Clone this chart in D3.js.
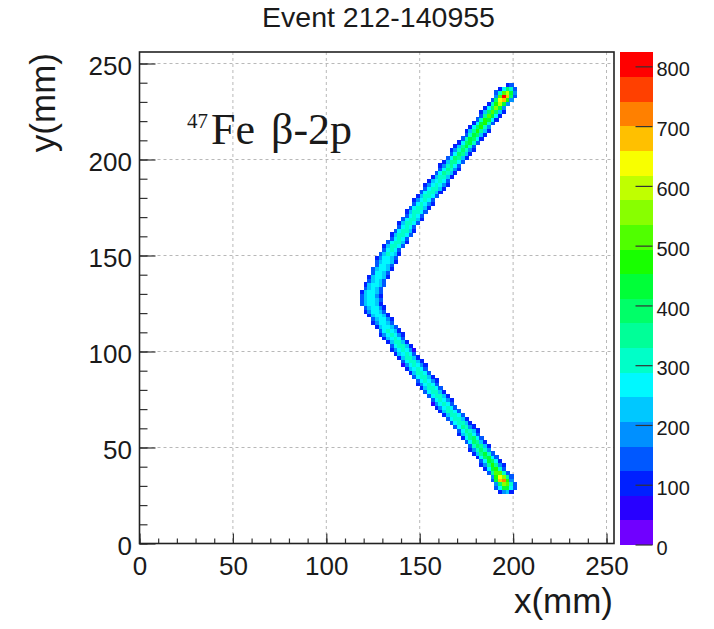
<!DOCTYPE html>
<html>
<head>
<meta charset="utf-8">
<script src="https://d3js.org/d3.v7.min.js"></script>
<style>
  body { margin: 0; background: #fff; }
  svg text { font-family: "Liberation Sans", Arial, Helvetica, sans-serif; fill: #1a1a1a; }
</style>
</head>
<body>
<div id="chart"></div>
<script>
// --------------------------------------
// Chart data
const titleText = "Event 212-140955";
const xTitle = "x(mm)";
const yTitle = "y(mm)";
const xTicks = [0, 50, 100, 150, 200, 250];
const yTicks = [0, 50, 100, 150, 200, 250];
const zTicks = [0, 100, 200, 300, 400, 500, 600, 700, 800];
const xRange = [0, 254];
const yRange = [0, 256];
const zMax = 824;      // top of the colour scale
const binSize = 2;     // mm per pad
// 20 contour colours, bottom (low) to top (high)
const palette = [
    "#7000ff", "#2800ff", "#0020ff", "#0058ff", "#0090ff",
    "#00c8ff", "#00f8ff", "#00ffc8", "#00ff98", "#00ff68",
    "#00ff38", "#18ff00", "#50ff00", "#88ff00", "#c0ff00",
    "#f8ff00", "#ffc000", "#ff8000", "#ff4000", "#ff0000"
];
// Each char of a row is the contour level of one pad (0-9, a=10 ... j=19)
const levelCodes = "0123456789abcdefghij";
// [lower y edge of row (mm), x of first pad (mm), levels of the pads]
const trackRows = [
    [26, 192, "2452"],
    [28, 190, "36aa63"],
    [30, 190, "49dc73"],
    [32, 188, "3aghb4"],
    [34, 188, "4bfd83"],
    [36, 186, "38cc73"],
    [38, 184, "26ab73"],
    [40, 182, "248b842"],
    [42, 182, "36a962"],
    [44, 180, "269a63"],
    [46, 178, "258a73"],
    [48, 176, "247974"],
    [50, 176, "379852"],
    [52, 174, "369852"],
    [54, 172, "268963"],
    [56, 170, "257863"],
    [58, 170, "368752"],
    [60, 168, "368742"],
    [62, 166, "367752"],
    [64, 164, "367752"],
    [66, 162, "257763"],
    [68, 160, "257763"],
    [70, 158, "246763"],
    [72, 156, "146763"],
    [74, 156, "367642"],
    [76, 154, "367752"],
    [78, 152, "367752"],
    [80, 150, "257763"],
    [82, 148, "246763"],
    [84, 148, "367642"],
    [86, 146, "367752"],
    [88, 144, "257763"],
    [90, 142, "256763"],
    [92, 140, "1467642"],
    [94, 140, "367752"],
    [96, 138, "257752"],
    [98, 136, "256763"],
    [100, 134, "2467641"],
    [102, 134, "367752"],
    [104, 132, "257752"],
    [106, 130, "256763"],
    [108, 128, "2467642"],
    [110, 128, "367652"],
    [112, 126, "256653"],
    [114, 124, "246653"],
    [116, 124, "356642"],
    [118, 122, "256652"],
    [120, 120, "246653"],
    [122, 120, "356642"],
    [124, 118, "356652"],
    [126, 118, "356653"],
    [128, 118, "356642"],
    [130, 118, "256653"],
    [132, 120, "35653"],
    [134, 120, "256653"],
    [136, 122, "35653"],
    [138, 122, "256652"],
    [140, 124, "36653"],
    [142, 124, "356652"],
    [144, 126, "36653"],
    [146, 126, "356652"],
    [148, 126, "246653"],
    [150, 128, "357652"],
    [152, 130, "36763"],
    [154, 130, "257763"],
    [156, 132, "367752"],
    [158, 134, "36763"],
    [160, 134, "257763"],
    [162, 136, "367752"],
    [164, 138, "36763"],
    [166, 138, "257763"],
    [168, 140, "367752"],
    [170, 142, "36763"],
    [172, 142, "257763"],
    [174, 144, "367752"],
    [176, 146, "367642"],
    [178, 146, "246763"],
    [180, 148, "257763"],
    [182, 150, "367752"],
    [184, 152, "367752"],
    [186, 152, "2467642"],
    [188, 154, "256763"],
    [190, 156, "257752"],
    [192, 158, "368752"],
    [194, 160, "368742"],
    [196, 160, "247863"],
    [198, 162, "258863"],
    [200, 164, "369852"],
    [202, 166, "369852"],
    [204, 166, "2479742"],
    [206, 168, "258a73"],
    [208, 170, "269a73"],
    [210, 172, "37a962"],
    [212, 174, "37a952"],
    [214, 174, "258b852"],
    [216, 176, "269b74"],
    [218, 178, "26ab73"],
    [220, 180, "37ba62"],
    [222, 182, "38ca62"],
    [224, 182, "259c952"],
    [226, 184, "269da4"],
    [228, 186, "27bea4"],
    [230, 188, "39fgb4"],
    [232, 190, "4cjg93"],
    [234, 190, "37cea4"],
    [236, 192, "26973"],
    [238, 196, "23"]
];

// --------------------------------------
// Layout (pixels)
const width = 714;
const height = 629;
const frame = { left: 139.5, right: 614, top: 52, bottom: 543.5 };
const bar = { left: 619.5, right: 652.5, top: 52, bottom: 544.5 };

const svg = d3.select("#chart")
    .append("svg")
    .attr("width", width)
    .attr("height", height)
    .attr("viewBox", "0 0 " + width + " " + height);

svg.append("rect").attr("width", width).attr("height", height).attr("fill", "#fff");

const x = d3.scaleLinear().domain(xRange).range([frame.left, frame.right]);
const y = d3.scaleLinear().domain(yRange).range([frame.bottom, frame.top]);
const z = d3.scaleLinear().domain([0, zMax]).range([bar.bottom, bar.top]);
const color = d3.scaleQuantize().domain([0, zMax]).range(palette);

// --------------------------------------
// Dashed grid at the major ticks
const grid = svg.append("g")
    .attr("stroke", "#b8b8b8")
    .attr("stroke-width", 1)
    .attr("stroke-dasharray", "3,3");
grid.selectAll(".gx")
    .data(xTicks.filter(d => d > 0))
    .join("line")
    .attr("x1", d => x(d)).attr("x2", d => x(d))
    .attr("y1", frame.top).attr("y2", frame.bottom);
grid.selectAll(".gy")
    .data(yTicks.filter(d => d > 0))
    .join("line")
    .attr("y1", d => y(d)).attr("y2", d => y(d))
    .attr("x1", frame.left).attr("x2", frame.right);

// --------------------------------------
// Pads of the track
const cells = [];
trackRows.forEach(function (row) {
    const [y0, x0, levels] = row;
    levels.split("").forEach(function (ch, k) {
        const level = levelCodes.indexOf(ch);
        if (level < 0) return;
        cells.push({
            x: x0 + k * binSize,
            y: y0,
            value: (level + 0.5) * zMax / palette.length
        });
    });
});

svg.append("g")
    .attr("shape-rendering", "crispEdges")
    .selectAll("rect")
    .data(cells)
    .join("rect")
    .attr("x", d => x(d.x))
    .attr("y", d => y(d.y + binSize))
    .attr("width", x(binSize) - x(0) + 0.4)
    .attr("height", y(0) - y(binSize) + 0.4)
    .attr("fill", d => color(d.value));

// --------------------------------------
// Axes: minor ticks every 10 mm, major every 50 mm, all pointing inward
function styleAxis(g, size) {
    g.select(".domain").remove();
    g.attr("color", "#333").attr("font-size", size);
    g.selectAll(".tick line").attr("stroke-width", 1.2);
}
svg.append("g")
    .attr("transform", "translate(0," + frame.bottom + ")")
    .call(d3.axisBottom(x).tickValues(d3.range(0, 251, 10)).tickSize(-5).tickFormat(""))
    .call(g => styleAxis(g, 26));
svg.append("g")
    .attr("transform", "translate(0," + frame.bottom + ")")
    .call(d3.axisBottom(x).tickValues(xTicks).tickSize(-10).tickPadding(13).tickFormat(d3.format("d")))
    .call(g => styleAxis(g, 26));
svg.append("g")
    .attr("transform", "translate(" + frame.left + ",0)")
    .call(d3.axisLeft(y).tickValues(d3.range(0, 251, 10)).tickSize(-8).tickFormat(""))
    .call(g => styleAxis(g, 26));
svg.append("g")
    .attr("transform", "translate(" + frame.left + ",0)")
    .call(d3.axisLeft(y).tickValues(yTicks).tickSize(-16).tickPadding(7.5).tickFormat(d3.format("d")))
    .call(g => styleAxis(g, 26))
    .call(g => g.selectAll(".tick text").attr("dy", "0.43em"));

// Frame round the plot
svg.append("rect")
    .attr("x", frame.left).attr("y", frame.top)
    .attr("width", frame.right - frame.left)
    .attr("height", frame.bottom - frame.top)
    .attr("fill", "none")
    .attr("stroke", "#222")
    .attr("stroke-width", 1.6);

// --------------------------------------
// Colour bar
const bandWidth = zMax / palette.length;
svg.append("g")
    .attr("shape-rendering", "crispEdges")
    .selectAll("rect")
    .data(palette)
    .join("rect")
    .attr("x", bar.left)
    .attr("width", bar.right - bar.left)
    .attr("y", (d, i) => z((i + 1) * bandWidth))
    .attr("height", (d, i) => z(i * bandWidth) - z((i + 1) * bandWidth) + 0.5)
    .attr("fill", d => d);
svg.append("g")
    .attr("transform", "translate(" + bar.right + ",0)")
    .call(d3.axisRight(z).tickValues(zTicks).tickSize(-17).tickPadding(4).tickFormat(d3.format("d")))
    .call(g => styleAxis(g, 20))
    .call(g => g.selectAll(".tick text").attr("dy", "0.48em"));

// --------------------------------------
// Titles
svg.append("text")
    .attr("x", 378.5).attr("y", 27)
    .attr("text-anchor", "middle")
    .attr("font-size", 28.5)
    .text(titleText);
svg.append("text")
    .attr("x", 613).attr("y", 613)
    .attr("text-anchor", "end")
    .attr("font-size", 35)
    .text(xTitle);
svg.append("text")
    .attr("transform", "translate(55,53) rotate(-90)")
    .attr("text-anchor", "end")
    .attr("font-size", 35)
    .text(yTitle);

// Annotation
const note = svg.append("text")
    .attr("y", 144)
    .style("font-family", "'Liberation Serif', 'DejaVu Serif', serif");
note.append("tspan").attr("x", 187).attr("font-size", 21).attr("dy", -16).text("47");
note.append("tspan").attr("x", 211).attr("font-size", 44).attr("dy", 16).text("Fe");
note.append("tspan").attr("x", 271).attr("font-size", 44).text("β-2p");
</script>
</body>
</html>
